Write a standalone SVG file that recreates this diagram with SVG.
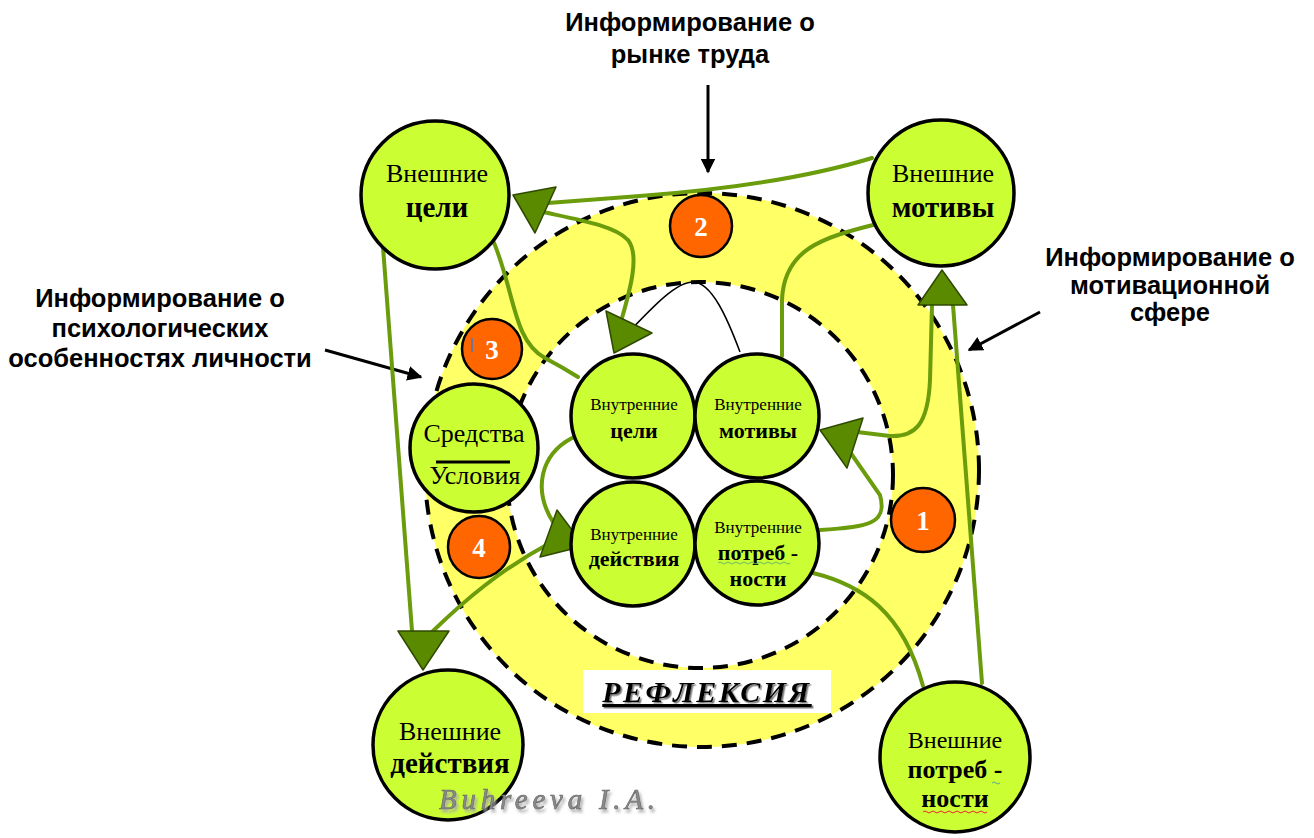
<svg xmlns="http://www.w3.org/2000/svg" width="1314" height="838" viewBox="0 0 1314 838">
<style>
.lbl{font-family:"Liberation Sans",Arial,sans-serif;font-weight:bold;font-size:25.5px;fill:#000;text-anchor:middle}
.node{fill:#CCFF33;stroke:#000;stroke-width:3.5}
.num{fill:#FF6600;stroke:#000;stroke-width:2.5}
.numt{font-family:"Liberation Serif","Times New Roman",serif;font-weight:bold;font-size:27px;fill:#fff;text-anchor:middle}
.reg{font-family:"Liberation Serif","Times New Roman",serif;font-size:26px;fill:#000;text-anchor:middle}
.bld{font-family:"Liberation Serif","Times New Roman",serif;font-weight:bold;font-size:29px;fill:#000;text-anchor:middle}
.ireg{font-family:"Liberation Serif","Times New Roman",serif;font-size:17px;fill:#000;text-anchor:middle}
.ibld{font-family:"Liberation Serif","Times New Roman",serif;font-weight:bold;font-size:22px;fill:#000;text-anchor:middle}
.gl{fill:none;stroke:#6A9C0C;stroke-width:4;stroke-linecap:round}
.ah{fill:#5A8A00;stroke:#2F4A00;stroke-width:1.5;stroke-linejoin:round}
.bl{fill:none;stroke:#000;stroke-width:3}
.dash{stroke:#000;stroke-width:4;stroke-dasharray:15 10}
</style>
<defs>
<marker id="barr" viewBox="0 0 10 10" refX="9" refY="5" markerWidth="5" markerHeight="5" orient="auto" markerUnits="strokeWidth">
<path d="M0,0 L10,5 L0,10 Z" fill="#000"/>
</marker>
<filter id="sh1" x="-10%" y="-30%" width="120%" height="170%">
<feDropShadow dx="1.5" dy="1.5" stdDeviation="0.6" flood-color="#777" flood-opacity="1"/>
</filter>
<filter id="sh2" x="-10%" y="-30%" width="120%" height="180%">
<feDropShadow dx="2" dy="3" stdDeviation="1.5" flood-color="#aaa" flood-opacity="1"/>
</filter>
</defs>
<rect width="1314" height="838" fill="#fff"/>

<g id="ring">
<circle cx="702" cy="470" r="277" fill="#FFFF66" class="dash"/>
<circle cx="700" cy="475" r="193" fill="#fff" class="dash"/>
</g>

<g id="labels">
<text class="lbl" x="690" y="31">Информирование о</text>
<text class="lbl" x="690" y="63">рынке труда</text>
<text class="lbl" x="160" y="307">Информирование о</text>
<text class="lbl" x="160" y="337">психологических</text>
<text class="lbl" x="160" y="367">особенностях личности</text>
<text class="lbl" x="1170" y="266">Информирование о</text>
<text class="lbl" x="1170" y="294">мотивационной</text>
<text class="lbl" x="1170" y="321">сфере</text>
</g>

<g id="connectors">
<line class="bl" x1="708" y1="85" x2="708" y2="172" marker-end="url(#barr)"/>
<line class="bl" x1="325" y1="350" x2="421" y2="377" marker-end="url(#barr)"/>
<line class="bl" x1="1040" y1="312" x2="969" y2="350" marker-end="url(#barr)"/>
<path d="M625 336 C 650 310, 675 282, 693 282 C 712 282, 728 320, 740 352" fill="none" stroke="#000" stroke-width="1.5"/>
<path class="gl" d="M872 158 C 800 180, 720 190, 640 196 L 548 203"/>
<path class="gl" d="M543 212 C 580 220, 615 226, 628 240 C 640 255, 630 290, 622 318"/>
<path class="gl" d="M877 224 C 820 238, 784 250, 782 300 L 782 356"/>
<path class="gl" d="M953 305 L 982 683"/>
<path class="gl" d="M932 305 L 930 380 C 928 425, 915 437, 890 436 L 857 432"/>
<path class="gl" d="M820 530 C 868 527, 888 524, 880 495 L 850 452"/>
<path class="gl" d="M813 573 C 862 585, 903 612, 923 686"/>
<path class="gl" d="M383 247 L 412 631"/>
<path class="gl" d="M433 631 C 465 600, 500 570, 550 543"/>
<path class="gl" d="M572 438 C 540 455, 533 490, 553 522"/>
<path class="gl" d="M492 238 C 515 290, 512 340, 545 358 C 560 366, 570 372, 578 377"/>
<polygon class="ah" points="513,195 556,187 535,233"/>
<polygon class="ah" points="606,311 652,333 614,353"/>
<polygon class="ah" points="942,270 918,305 967,305"/>
<polygon class="ah" points="820,430 863,418 847,468"/>
<polygon class="ah" points="398,631 449,631 423,670"/>
<polygon class="ah" points="557,510 584,546 540,557"/>
</g>

<g id="n2"><circle class="num" cx="701" cy="226" r="31"/><text class="numt" x="701" y="236">2</text></g>
<g id="n3"><circle class="num" cx="492" cy="349" r="30"/><text class="numt" x="492" y="359">3</text><line x1="472" y1="338" x2="472" y2="352" stroke="#3A7BD5" stroke-width="1.5"/></g>
<g id="n4"><circle class="num" cx="479" cy="547" r="31"/><text class="numt" x="479" y="557">4</text></g>
<g id="n1"><circle class="num" cx="923" cy="520" r="32"/><text class="numt" x="923" y="530">1</text></g>

<g id="refl">
<rect x="583" y="670" width="248" height="43" fill="#fff"/>
<text x="707" y="702" font-family="'Liberation Serif','Times New Roman',serif" font-weight="bold" font-style="italic" font-size="30" letter-spacing="2.5" text-anchor="middle" fill="#000" text-decoration="underline" filter="url(#sh1)">РЕФЛЕКСИЯ</text>
</g>

<g id="ext-goals"><circle class="node" cx="435" cy="195" r="74"/>
<text class="reg" x="437" y="182">Внешние</text><text class="bld" x="437" y="217">цели</text></g>
<g id="ext-motives"><circle class="node" cx="941" cy="193" r="73"/>
<text class="reg" x="943" y="182">Внешние</text><text class="bld" x="943" y="217">мотивы</text></g>
<g id="means"><circle class="node" cx="474" cy="448" r="64"/>
<text class="reg" x="474" y="442">Средства</text>
<line x1="436" y1="462" x2="510" y2="462" stroke="#000" stroke-width="3"/>
<text class="reg" x="475" y="484">Условия</text></g>
<g id="ext-actions"><circle class="node" cx="448" cy="745" r="75"/>
<text class="reg" x="450" y="740">Внешние</text><text class="bld" x="450" y="773">действия</text></g>
<g id="ext-needs"><circle class="node" cx="955" cy="757" r="75"/>
<text class="reg" x="955" y="748" style="font-size:24px">Внешние</text><text class="bld" x="955" y="778" style="font-size:26px">потреб -</text><text class="bld" x="955" y="807" style="font-size:26px">ности</text>
<path d="M992 783 q2 -2 4 0 t4 0" fill="none" stroke="#5a9" stroke-width="1"/>
<path d="M923 812 q2 -2 4 0 t4 0 t4 0 t4 0 t4 0 t4 0 t4 0 t4 0 t4 0 t4 0 t4 0 t4 0 t4 0 t4 0 t4 0 t4 0" fill="none" stroke="#E23" stroke-width="1"/></g>

<g id="int-goals"><circle class="node" cx="633" cy="416" r="62"/>
<text class="ireg" x="634" y="410">Внутренние</text><text class="ibld" x="634" y="438">цели</text></g>
<g id="int-motives"><circle class="node" cx="757" cy="416" r="62"/>
<text class="ireg" x="758" y="410">Внутренние</text><text class="ibld" x="758" y="438">мотивы</text></g>
<g id="int-actions"><circle class="node" cx="633" cy="544" r="62"/>
<text class="ireg" x="634" y="540">Внутренние</text><text class="ibld" x="634" y="566">действия</text></g>
<g id="int-needs"><circle class="node" cx="757" cy="543" r="62"/>
<text class="ireg" x="758" y="533">Внутренние</text><text class="ibld" x="758" y="560">потреб -</text><text class="ibld" x="758" y="586">ности</text>
<path d="M718 563 q2 -2 4 0 t4 0 t4 0 t4 0 t4 0 t4 0 t4 0 t4 0 t4 0 t4 0 t4 0 t4 0 t4 0 t4 0 t4 0 t4 0 t4 0 t4 0" fill="none" stroke="#6b6" stroke-width="1"/></g>

<g id="watermark">
<text x="439" y="809" font-family="'Liberation Serif','Times New Roman',serif" font-style="italic" font-size="29" fill="#8a8a8a" stroke="#666" stroke-width="0.6" textLength="216" lengthAdjust="spacing" filter="url(#sh2)">Buhreeva I.A.</text>
</g>
</svg>
